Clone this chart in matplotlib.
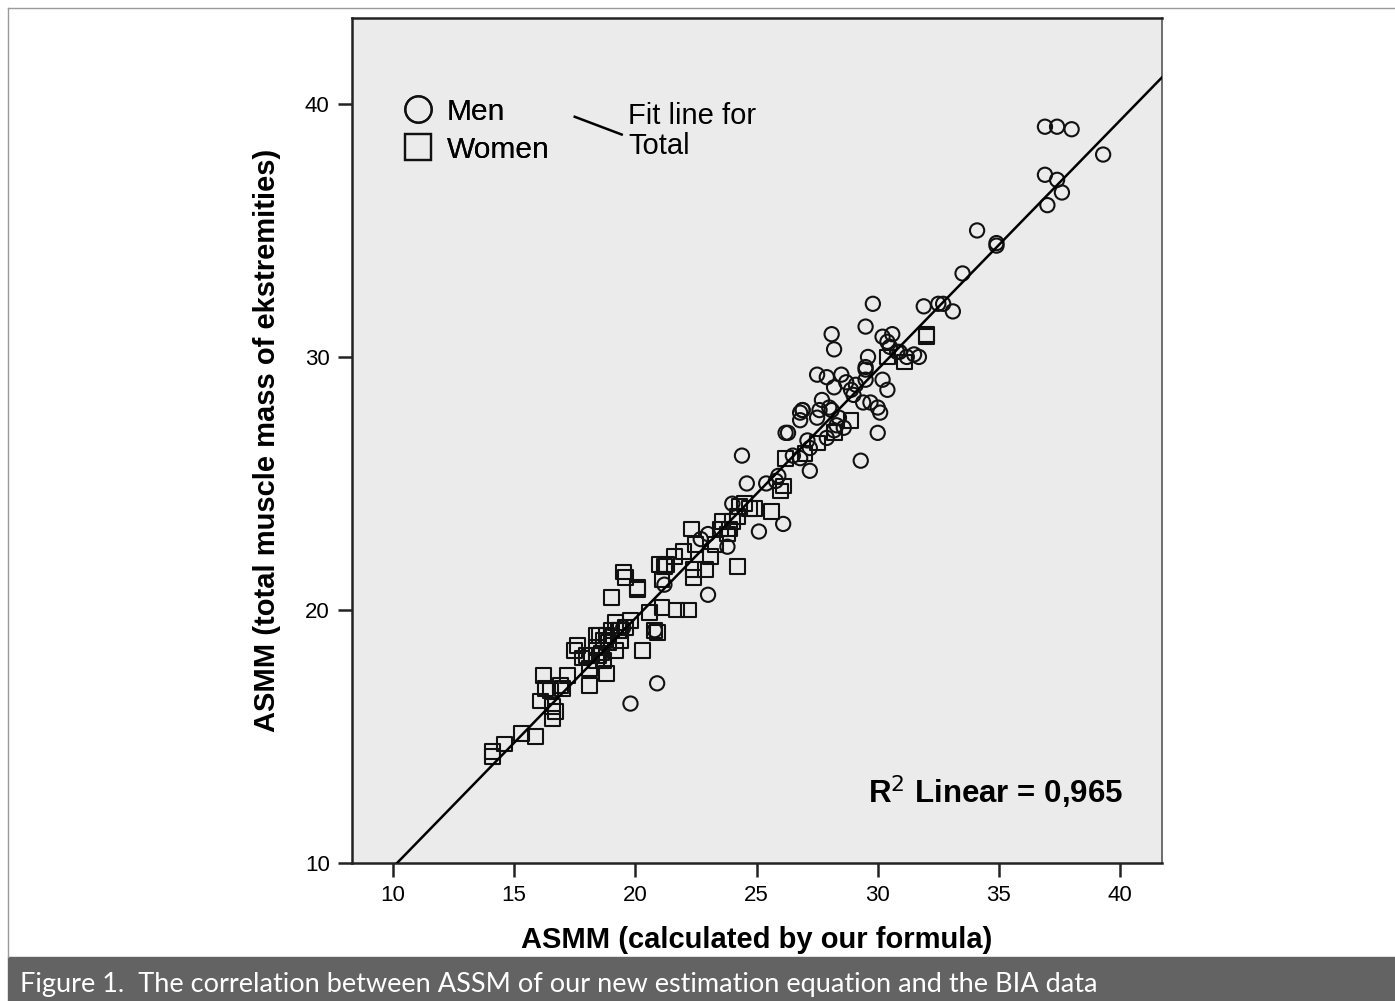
import matplotlib
matplotlib.use("Agg")
import matplotlib.pyplot as plt
import numpy as np
from matplotlib.lines import Line2D

women_x = [14.1, 14.1, 14.6, 15.3, 15.9, 16.1, 16.2, 16.3, 16.6, 16.7, 16.6, 16.9, 17.2,
           17.5, 17.6, 18.1, 18.2, 18.4, 18.5, 18.7, 18.4, 18.7, 18.8, 18.9, 19.0, 19.2,
           19.0, 19.3, 19.4, 19.6, 19.5, 19.6, 19.2, 19.4, 19.8, 20.1, 20.1, 20.3, 20.8,
           20.9, 20.6, 21.0, 21.2, 21.3, 21.1, 21.1, 21.6, 21.7, 22.2, 22.3, 22.4, 22.4,
           22.5, 22.9, 23.1, 23.3, 23.5, 23.9, 24.0, 24.2, 24.2, 24.5, 24.7, 24.9, 25.6,
           26.0, 26.1, 26.2, 27.5, 28.9, 32.0, 32.0, 31.1, 18.0, 18.1, 18.4, 18.5, 18.6,
           18.8, 16.5, 17.0, 17.8, 23.6, 23.8, 24.3, 22.0, 28.2, 27.0, 30.4]
women_y = [14.4, 14.2, 14.7, 15.1, 15.0, 16.4, 17.4, 16.9, 15.7, 16.0, 16.2, 17.0, 17.4,
           18.4, 18.6, 17.0, 18.2, 18.0, 18.2, 18.0, 19.0, 18.8, 17.5, 18.7, 19.2, 18.4,
           20.5, 19.2, 19.2, 19.3, 21.5, 21.3, 19.5, 18.8, 19.6, 20.9, 20.8, 18.4, 19.2,
           19.1, 19.9, 21.8, 21.7, 21.8, 21.2, 20.1, 22.1, 20.0, 20.0, 23.2, 21.6, 21.3,
           22.6, 21.6, 22.1, 22.6, 23.2, 23.2, 23.5, 23.7, 21.7, 24.2, 24.0, 24.0, 23.9,
           24.7, 24.9, 26.0, 26.6, 27.5, 30.9, 30.8, 29.8, 18.2, 17.7, 18.5, 19.0, 18.3,
           19.0, 16.8, 16.9, 18.1, 23.5, 23.0, 24.1, 22.3, 27.0, 26.2, 30.0]
men_x = [19.8, 20.9, 23.0, 23.0, 23.8, 25.1, 24.4, 24.6, 26.1, 25.8, 26.2, 26.8, 27.2,
         26.8, 26.9, 29.8, 29.5, 28.1, 28.2, 30.2, 30.6, 30.4, 30.5, 29.6, 29.5, 30.9,
         31.2, 31.7, 32.5, 32.7, 27.5, 27.9, 28.5, 28.2, 28.9, 27.6, 26.9, 26.8, 27.5,
         28.0, 28.4, 28.2, 27.9, 28.6, 29.4, 29.7, 30.0, 30.1, 30.4, 30.0, 26.3, 29.3,
         27.2, 26.5, 29.5, 29.5, 30.2, 31.5, 33.1, 33.5, 34.1, 34.9, 34.9, 36.9, 37.4,
         38.0, 36.9, 37.0, 37.4, 37.6, 39.3, 28.1, 29.0, 28.7, 27.7, 25.4, 19.5, 20.8,
         21.2, 22.7, 24.0, 25.9, 27.1, 28.3, 29.1, 30.8, 31.9]
men_y = [16.3, 17.1, 20.6, 23.0, 22.5, 23.1, 26.1, 25.0, 23.4, 25.1, 27.0, 26.0, 25.5,
         27.8, 27.9, 32.1, 31.2, 30.9, 30.3, 30.8, 30.9, 30.6, 30.4, 30.0, 29.5, 30.2,
         30.0, 30.0, 32.1, 32.1, 29.3, 29.2, 29.3, 28.8, 28.7, 27.9, 27.9, 27.5, 27.6,
         28.0, 27.6, 27.1, 26.8, 27.2, 28.2, 28.2, 28.0, 27.8, 28.7, 27.0, 27.0, 25.9,
         26.4, 26.1, 29.6, 29.1, 29.1, 30.1, 31.8, 33.3, 35.0, 34.5, 34.4, 39.1, 39.1,
         39.0, 37.2, 36.0, 37.0, 36.5, 38.0, 27.9, 28.5, 29.0, 28.3, 25.0, 19.3, 19.2,
         21.0, 22.8, 24.2, 25.3, 26.7, 27.3, 28.9, 30.2, 32.0]

fit_slope = 0.984
fit_intercept = -0.01
r_squared = "0,965"

x_ticks = [10, 15, 20, 25, 30, 35, 40]
y_ticks = [10, 20, 30, 40]

label_font = ["Liberation Sans", "DejaVu Sans"]

fig = plt.figure(figsize=(13.95, 10.01), dpi=100)
ax = fig.add_axes([0.2523, 0.1379, 0.5807, 0.8442])
ax.set_facecolor("#ebebeb")

ax.scatter(men_x, men_y, s=105, marker="o", facecolors="none",
           edgecolors="#111111", linewidths=1.5, zorder=3)
ax.scatter(women_x, women_y, s=115, marker="s", facecolors="none",
           edgecolors="#111111", linewidths=1.5, zorder=3)

xlim = (8.31, 41.73)
ylim = (10.0, 43.4)
fx = np.array(xlim)
ax.plot(fx, fit_intercept + fit_slope * fx, color="black", lw=1.8, zorder=4)
ax.set_xlim(*xlim)
ax.set_ylim(*ylim)

ax.set_xticks(x_ticks)
ax.set_yticks(y_ticks)
ax.tick_params(direction="out", length=10, width=1.8, color="#222222",
               labelsize=16, pad=6)
for lab in ax.get_xticklabels() + ax.get_yticklabels():
    lab.set_family(label_font)
for side in ["left", "top", "bottom"]:
    ax.spines[side].set_linewidth(1.8)
    ax.spines[side].set_color("#222222")
ax.spines["right"].set_linewidth(1.2)
ax.spines["right"].set_color("#555555")

ax.set_xlabel("ASMM (calculated by our formula)", fontsize=21, fontweight="bold",
              family=label_font, labelpad=14)
ax.set_ylabel("ASMM (total muscle mass of ekstremities)", fontsize=21,
              fontweight="bold", family=label_font, labelpad=17)

# legend
handles = [
    Line2D([], [], marker="o", ls="none", markersize=19, markerfacecolor="none",
           markeredgecolor="#111111", markeredgewidth=1.6, label="Men"),
    Line2D([], [], marker="s", ls="none", markersize=19, markerfacecolor="none",
           markeredgecolor="#111111", markeredgewidth=1.6, label="Women"),
]
leg = ax.legend(handles=handles, loc="upper left", bbox_to_anchor=(0.045, 0.923),
                frameon=False, handlelength=1.0, handletextpad=0.45,
                labelspacing=0.33, borderpad=0.0,
                prop={"family": label_font, "size": 21.5})
ax.add_artist(leg)
ax.add_line(Line2D([0.275, 0.333], [0.883, 0.862], transform=ax.transAxes,
                   color="black", lw=1.8))
ax.text(0.341, 0.900, "Fit line for\nTotal", transform=ax.transAxes, va="top",
        ha="left", fontsize=21, family=label_font, linespacing=1.05)

ax.text(0.952, 0.084, f"R$^2$ Linear = {r_squared}", transform=ax.transAxes,
        ha="right", va="center", fontsize=22.5, fontweight="bold", family=label_font)

# page frame and caption bar
fig.add_artist(Line2D([0.0057, 0.0057], [0.044, 0.992], color="#9a9a9a", lw=1.0))
fig.add_artist(Line2D([0.0057, 1.0], [0.992, 0.992], color="#9a9a9a", lw=1.0))
fig.add_artist(plt.Rectangle((0.0057, 0.0), 1.0, 0.044, color="#636363",
                             transform=fig.transFigure))
fig.text(0.0143, 0.016, "Figure 1.  The correlation between ASSM of our new estimation "
         "equation and the BIA data", color="white", fontsize=19.5, va="center",
         ha="left", family=["Lato", "DejaVu Sans"])

fig.savefig("out.png", dpi=100, facecolor="white")
